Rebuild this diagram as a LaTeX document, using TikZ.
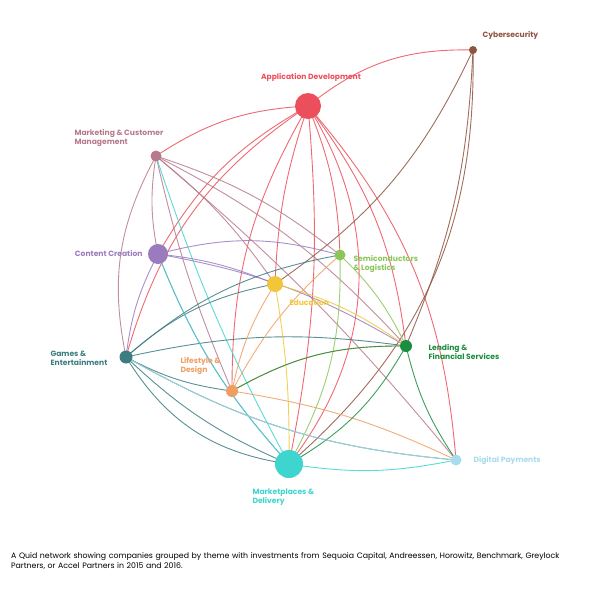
\documentclass[tikz,border=0pt]{standalone}
\usepackage{fontspec}
\setmainfont{Poppins}
\begin{document}
\begin{tikzpicture}[x=1pt,y=-1pt,
 dot/.style={circle,inner sep=0pt,fill=#1,draw=none},
 lab/.style={font=\fontsize{7.6}{9}\selectfont\bfseries,text=#1,align=left},
 e/.style={draw=#1,line width=0.9pt,opacity=0.85}]
\useasboundingbox (0,0) rectangle (600,600);
\definecolor{cyb}{HTML}{8E5440}
\definecolor{app}{HTML}{EB4F5B}
\definecolor{mkt}{HTML}{B77A8C}
\definecolor{con}{HTML}{9A7CBE}
\definecolor{sem}{HTML}{8CC55A}
\definecolor{edu}{HTML}{F2C63A}
\definecolor{gam}{HTML}{3B7D80}
\definecolor{len}{HTML}{1A8D3E}
\definecolor{lif}{HTML}{EF9E62}
\definecolor{dig}{HTML}{A8DBEC}
\definecolor{mar}{HTML}{3DD5CE}
% edges
\draw[e=app] (308,106) to[bend left=20] (473,50);
\draw[e=app] (308,106) to[bend right=15] (156,156);
\draw[e=app] (308,106) to[bend right=15] (158,254);
\draw[e=app] (308,106) to[bend right=20] (126,357);
\draw[e=app] (308,106) to[bend right=15] (232,391);
\draw[e=app] (308,106) to[bend right=8] (275,284);
\draw[e=app] (308,106) to[bend left=10] (340,255);
\draw[e=app] (308,106) to[bend left=15] (406,346);
\draw[e=app] (308,106) to[bend left=18] (456,460);
\draw[e=app] (308,106) to[bend left=8] (289,464);
\draw[e=app] (308,106) to[bend left=35] (289,464);
\draw[e=cyb] (473,50) to[bend left=10] (406,346);
\draw[e=cyb] (473,50) to[bend left=15] (275,284);
\draw[e=cyb] (473,50) to[bend left=25] (289,464);
\draw[e=mkt] (156,156) to[bend right=10] (158,254);
\draw[e=mkt] (156,156) to[bend right=20] (126,357);
\draw[e=mkt] (156,156) to[bend left=10] (340,255);
\draw[e=mkt] (156,156) to[bend left=8] (275,284);
\draw[e=mkt] (156,156) to[bend left=10] (406,346);
\draw[e=mkt] (156,156) to[bend left=5] (456,460);
\draw[e=mkt] (156,156) to[bend right=5] (232,391);
\draw[e=mar] (289,464) to[bend left=5] (156,156);
\draw[e=con] (158,254) to[bend left=15] (340,255);
\draw[e=con] (158,254) to[bend left=8] (275,284);
\draw[e=con] (158,254) to[bend right=10] (289,464);
\draw[e=con] (158,254) to[bend right=10] (126,357);
\draw[e=con] (158,254) to[bend left=10] (406,346);
\draw[e=gam] (126,357) to[bend right=10] (289,464);
\draw[e=gam] (126,357) to[bend right=25] (289,464);
\draw[e=gam] (126,357) to[bend right=12] (456,460);
\draw[e=gam] (126,357) to[bend left=15] (275,284);
\draw[e=gam] (126,357) to[bend left=15] (340,255);
\draw[e=gam] (126,357) to[bend right=10] (232,391);
\draw[e=gam] (126,357) to[bend left=10] (406,346);
\draw[e=lif] (232,391) to[bend left=15] (406,346);
\draw[e=lif] (232,391) to[bend left=8] (456,460);
\draw[e=lif] (232,391) to[bend left=10] (275,284);
\draw[e=lif] (232,391) to[bend left=10] (340,255);
\draw[e=edu] (275,284) to[bend left=10] (406,346);
\draw[e=edu] (275,284) to[bend left=5] (289,464);
\draw[e=sem] (340,255) to[bend left=10] (406,346);
\draw[e=sem] (340,255) to[bend left=15] (289,464);
\draw[e=len] (406,346) to[bend left=15] (289,464);
\draw[e=len] (406,346) to[bend right=10] (456,460);
\draw[e=len] (406,346) to[bend right=15] (232,391);
\draw[e=mar] (289,464) to[bend right=10] (456,460);
\draw[e=mar] (289,464) to[bend left=10] (158,254);
\draw[e=dig] (456,460) to[bend left=12] (126,357);
% nodes
\node[dot=cyb,minimum size=8pt] (cyb) at (473,50) {};
\node[dot=app,minimum size=26pt] (app) at (308,106) {};
\node[dot=mkt,minimum size=11pt] (mkt) at (156,156) {};
\node[dot=con,minimum size=20pt] (con) at (158,254) {};
\node[dot=sem,minimum size=11pt] (sem) at (340,255) {};
\node[dot=edu,minimum size=16pt] (edu) at (275,284) {};
\node[dot=gam,minimum size=13pt] (gam) at (126,357) {};
\node[dot=len,minimum size=12pt] (len) at (406,346) {};
\node[dot=lif,minimum size=12pt] (lif) at (232,391) {};
\node[dot=dig,minimum size=11pt] (dig) at (456,460) {};
\node[dot=mar,minimum size=28pt] (mar) at (289,464) {};
% labels
\node[lab=cyb,anchor=west] (lcyb) at (479,35) {Cybersecurity};
\node[lab=app] (lapp) at (311,77) {Application Development};
\node[lab=mkt,anchor=west] (lmkt) at (71,138) {Marketing \& Customer\\Management};
\node[lab=con,anchor=east] (lcon) at (146,253) {Content Creation};
\node[lab=sem,anchor=west] (lsem) at (350,264) {Semiconductors\\\& Logistics};
\node[lab=edu,anchor=west] (ledu) at (286,302) {Education};
\node[lab=gam,anchor=west] (lgam) at (47,358) {Games \&\\Entertainment};
\node[lab=len,anchor=west] (llen) at (425,352) {Lending \&\\Financial Services};
\node[lab=lif,anchor=west] (llif) at (177,366) {Lifestyle \&\\Design};
\node[lab=dig,anchor=west] (ldig) at (470,460) {Digital Payments};
\node[lab=mar,anchor=west] (lmar) at (249,497) {Marketplaces \&\\Delivery};
\node[font=\fontsize{7.8}{10}\selectfont,anchor=north west,align=left,text width=570pt,inner sep=0pt] (cap) at (11,552) {A Quid network showing companies grouped by theme with investments from Sequoia Capital, Andreessen, Horowitz, Benchmark, Greylock Partners, or Accel Partners in 2015 and 2016.};
\end{tikzpicture}
\end{document}
